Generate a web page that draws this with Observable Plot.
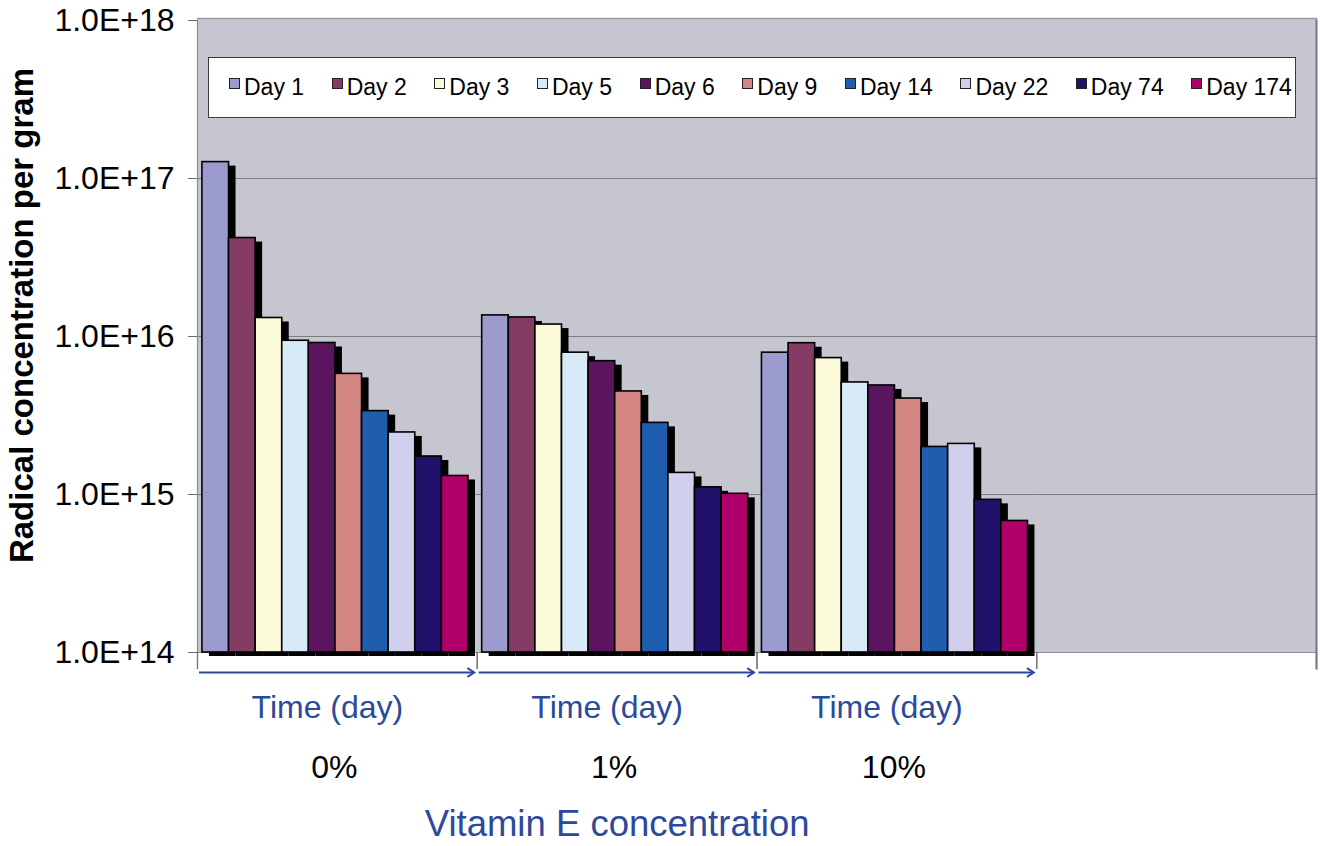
<!DOCTYPE html>
<html><head><meta charset="utf-8">
<script src="https://cdn.jsdelivr.net/npm/d3@7"></script>
<script src="https://cdn.jsdelivr.net/npm/@observablehq/plot@0.6"></script>
<style>
body{margin:0;background:#fff;}
#wrap{position:relative;width:1320px;height:846px;font-family:"Liberation Sans",Arial,sans-serif;}
#legend{position:absolute;left:208px;top:57px;width:1088px;height:61px;background:#fff;border:1.5px solid #3a3a3a;box-sizing:border-box;display:flex;align-items:center;justify-content:space-between;padding-left:20px;padding-right:3px;font-size:23px;color:#000;}
.item{display:flex;align-items:center;white-space:nowrap;}
.sw{width:9px;height:9px;border:1.5px solid #222;margin-right:4px;position:relative;top:-4px;}
</style></head><body>
<div id="wrap"><div id="legend"></div></div>
<script>
const groups = ["0%", "1%", "10%"];
const spareGroup = "(none)";
const days = ["Day 1","Day 2","Day 3","Day 5","Day 6","Day 9","Day 14","Day 22","Day 74","Day 174"];
const colors = ["#9b9bcf","#853c64","#fafad8","#d8eaf8","#5a1460","#d38582","#1f5eae","#d0d0ec","#22116a","#b0006a"];
const values0  = [1.27e17, 4.2e16, 1.31e16, 9.4e15, 9.1e15, 5.8e15, 3.37e15, 2.47e15, 1.74e15, 1.31e15];
const values1  = [1.36e16, 1.32e16, 1.19e16, 7.9e15, 6.98e15, 4.49e15, 2.84e15, 1.37e15, 1.11e15, 1.01e15];
const values10 = [7.9e15, 9.07e15, 7.3e15, 5.12e15, 4.9e15, 4.05e15, 2.0e15, 2.09e15, 9.25e14, 6.8e14];
const yTicks = [1e14, 1e15, 1e16, 1e17, 1e18];
const yTitle = "Radical concentration per gram";
const axisTitle = "Vitamin E concentration";
const timeLabel = "Time (day)";

const series = [values0, values1, values10];
const rows = groups.flatMap((g, i) => days.map((d, j) => ({group: g, day: d, value: series[i][j]})));
const allGroups = [...groups, spareGroup];
const gridRows = allGroups.flatMap(g => yTicks.slice(1, -1).map(v => ({group: g, value: v})));
const yMin = yTicks[0];

const W = 1320, H = 846, mL = 197, mR = 4, mT = 20, mB = 194;
const innerH = H - mT - mB;
const blue = "#2b4a9b";

const chevron = {
  draw(ctx, size) {
    const s = Math.sqrt(size / Math.PI) * 1.7;
    ctx.moveTo(-s, -s * 0.65);
    ctx.lineTo(0, 0);
    ctx.lineTo(-s, s * 0.65);
  }
};

const chart = Plot.plot({
  width: W, height: H,
  marginLeft: mL, marginRight: mR, marginTop: mT, marginBottom: mB,
  style: {fontFamily: "'Liberation Sans', Arial, sans-serif", fontSize: "32px", background: "#fff", overflow: "visible"},
  fx: {domain: allGroups, padding: 0, round: false, axis: null},
  x: {domain: days, paddingInner: 0, paddingOuter: 0.258, align: 0.36, round: false, axis: null},
  y: {type: "log", domain: [yTicks[0], yTicks[yTicks.length - 1]]},
  color: {domain: days, range: colors},
  marks: [
    Plot.frame({facet: "super", fill: "#c6c6d1", insetTop: -2}),
    Plot.ruleY(gridRows, {fx: "group", y: "value", stroke: "#7d7d85", strokeWidth: 1.2}),
    Plot.frame({facet: "super", anchor: "top", stroke: "#9a9aa0", strokeWidth: 1.5, insetTop: -2}),
    Plot.frame({facet: "super", anchor: "bottom", stroke: "#8a8a90", strokeWidth: 1.2}),
    Plot.frame({facet: "super", anchor: "right", stroke: "#76767c", strokeWidth: 2, insetBottom: -16}),
    Plot.frame({facet: "super", anchor: "left", stroke: "#8a8a90", strokeWidth: 1.2, insetBottom: -16}),
    Plot.frame({anchor: "left", stroke: "#76767c", strokeWidth: 1.2, insetTop: innerH, insetBottom: -16}),
    Plot.frame({anchor: "right", stroke: "#76767c", strokeWidth: 1.2, insetTop: innerH, insetBottom: -16}),
    Plot.barY(rows, {fx: "group", x: "day", y1: yMin, y2: "value", fill: "#000", dx: 7, dy: 4}),
    Plot.barY(rows, {fx: "group", x: "day", y1: yMin, y2: "value", fill: "day", stroke: "#000", strokeWidth: 1.6}),
    Plot.axisY(yTicks, {tickFormat: d => "1.0E+" + Math.round(Math.log10(d)), tickSize: 9, tickPadding: 14, fontSize: 32, stroke: "#6a6a6a", label: null}),
    Plot.ruleY(groups, {fx: d => d, y: () => yMin, dy: 20, insetLeft: 2, insetRight: 3, stroke: blue, strokeWidth: 2}),
    Plot.dot(groups, {fx: d => d, frameAnchor: "bottom-right", dx: -3, dy: 20, symbol: chevron, r: 4, stroke: blue, strokeWidth: 2, fill: "none"}),
    Plot.text(groups, {fx: d => d, text: () => timeLabel, frameAnchor: "bottom", lineAnchor: "middle", dx: -10, dy: 55, fill: blue, fontSize: 32}),
    Plot.text(groups, {fx: d => d, text: d => d, frameAnchor: "bottom", lineAnchor: "middle", dx: -3, dy: 115, fill: "#000", fontSize: 32}),
    Plot.text([groups[1]], {fx: d => d, text: () => axisTitle, frameAnchor: "bottom", lineAnchor: "middle", dy: 172, fill: blue, fontSize: 36.5}),
    Plot.text([groups[0]], {fx: d => d, text: () => yTitle, frameAnchor: "left", textAnchor: "middle", lineAnchor: "middle", dx: -175, dy: -21, rotate: -90, fontSize: 33, fontWeight: "bold", fill: "#000"})
  ]
});
const wrap = document.getElementById("wrap");
wrap.insertBefore(chart, wrap.firstChild);

const legend = document.getElementById("legend");
days.forEach((d, i) => {
  const item = document.createElement("div");
  item.className = "item";
  const sw = document.createElement("span");
  sw.className = "sw";
  sw.style.background = colors[i];
  const t = document.createElement("span");
  t.textContent = d;
  item.appendChild(sw); item.appendChild(t);
  legend.appendChild(item);
});
</script>
</body></html>
